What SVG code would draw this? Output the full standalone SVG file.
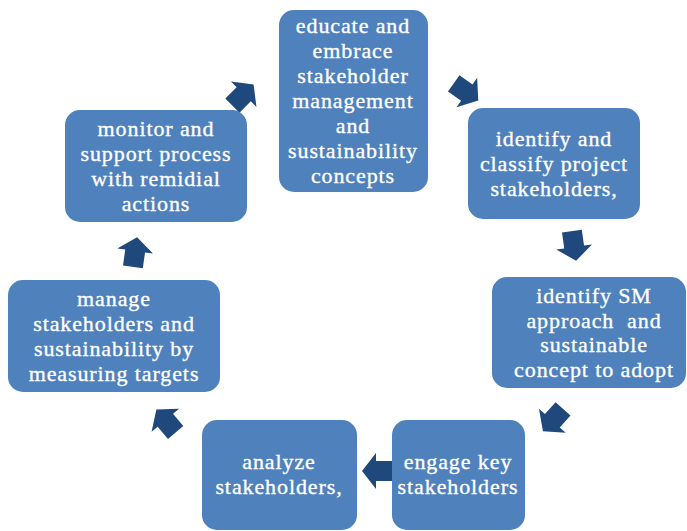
<svg xmlns="http://www.w3.org/2000/svg" width="687" height="531" viewBox="0 0 687 531">
<style>
.box{fill:#4f81bd;}
.t{font-family:"Liberation Serif","Times New Roman",serif;font-size:22px;fill:#ffffff;stroke:#ffffff;stroke-width:0.35px;text-anchor:middle;letter-spacing:0.9px;white-space:pre;}
.arr{fill:#1f497d;}
</style>
<defs>
<path id="arrow" d="M-15,-10 L1,-10 L1,-18 L15,0 L1,18 L1,10 L-15,10 Z"/>
</defs>
<rect width="687" height="531" fill="#ffffff"/>
<g id="connectors" class="arr">
<use href="#arrow" transform="translate(243,95) rotate(-45)"/>
<use href="#arrow" transform="translate(466,92) rotate(35)"/>
<use href="#arrow" transform="translate(574,246) rotate(82)"/>
<use href="#arrow" transform="translate(553,420) rotate(132)"/>
<use href="#arrow" transform="translate(377,471) rotate(180)"/>
<use href="#arrow" transform="translate(166,421) rotate(-130)"/>
<use href="#arrow" transform="translate(135,252) rotate(-82)"/>
</g>
<g id="educate">
<rect class="box" x="279" y="10" width="149" height="182" rx="15"/>
<text class="t"><tspan x="353" y="33">educate and</tspan><tspan x="353" y="58">embrace</tspan><tspan x="353" y="83">stakeholder</tspan><tspan x="353" y="108">management</tspan><tspan x="353" y="133">and</tspan><tspan x="353" y="158">sustainability</tspan><tspan x="353" y="183">concepts</tspan></text>
</g>
<g id="identify">
<rect class="box" x="468" y="108" width="172" height="111" rx="15"/>
<text class="t"><tspan x="554" y="146">identify and</tspan><tspan x="554" y="171">classify project</tspan><tspan x="554" y="196">stakeholders,</tspan></text>
</g>
<g id="sm">
<rect class="box" x="492" y="277" width="194" height="111" rx="15"/>
<text class="t"><tspan x="594" y="303">identify SM</tspan><tspan x="594" y="328">approach  and</tspan><tspan x="594" y="352">sustainable</tspan><tspan x="594" y="377">concept to adopt</tspan></text>
</g>
<g id="engage">
<rect class="box" x="392" y="420" width="133" height="110" rx="15"/>
<text class="t"><tspan x="458" y="469">engage key</tspan><tspan x="458" y="494">stakeholders</tspan></text>
</g>
<g id="analyze">
<rect class="box" x="202" y="420" width="155" height="110" rx="15"/>
<text class="t"><tspan x="279" y="469">analyze</tspan><tspan x="279" y="494">stakeholders,</tspan></text>
</g>
<g id="manage">
<rect class="box" x="8" y="280" width="212" height="112" rx="15"/>
<text class="t"><tspan x="114" y="306">manage</tspan><tspan x="114" y="331">stakeholders and</tspan><tspan x="114" y="356">sustainability by</tspan><tspan x="114" y="381">measuring targets</tspan></text>
</g>
<g id="monitor">
<rect class="box" x="65" y="110" width="182" height="112" rx="15"/>
<text class="t"><tspan x="156" y="136">monitor and</tspan><tspan x="156" y="161">support process</tspan><tspan x="156" y="186">with remidial</tspan><tspan x="156" y="211">actions</tspan></text>
</g>
</svg>
